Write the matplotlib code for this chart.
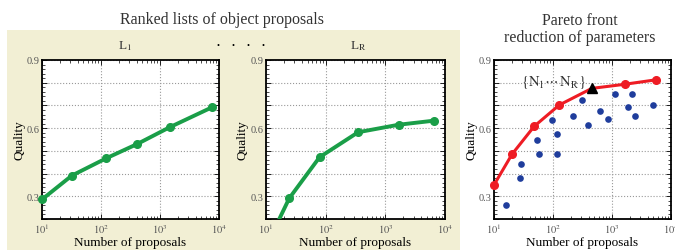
import numpy as np
import matplotlib
matplotlib.use("Agg")
import matplotlib.pyplot as plt
from matplotlib.patches import Rectangle
from matplotlib.ticker import MultipleLocator, FuncFormatter, LogLocator

plt.rcParams['font.family'] = ['Liberation Serif', 'DejaVu Serif']
plt.rcParams['mathtext.fontset'] = 'stix'

# ranked list L_1
l1_x = [10.1, 32, 122, 410, 1460, 7650]
l1_q = [0.287, 0.391, 0.467, 0.530, 0.604, 0.692]

# ranked list L_R (first entry is where the curve leaves the bottom, no marker)
lr_x = [16.7, 24.5, 79, 350, 1670, 6560]
lr_q = [0.20, 0.291, 0.472, 0.582, 0.615, 0.633]

# pareto front (index 4 sits under the triangle)
front_x = [10, 20.2, 48, 128, 454, 1630, 5640]
front_q = [0.350, 0.485, 0.608, 0.702, 0.775, 0.793, 0.813]
chosen = 4

# other parameter settings
other_x = [16.2, 28.1, 29.2, 53.9, 57.5, 94.6, 115, 118, 215, 306, 398,
           637, 871, 1130, 1834, 2202, 2477, 4946]
other_q = [0.262, 0.381, 0.444, 0.549, 0.485, 0.637, 0.576, 0.485, 0.655,
           0.724, 0.615, 0.676, 0.640, 0.749, 0.692, 0.749, 0.655, 0.702]

GREEN = '#1a9e48'
RED = '#ee1c24'
BLUE = '#1f3d9c'
BEIGE = '#f2efd4'

W, H = 675, 251
fig = plt.figure(figsize=(W / 100, H / 100), dpi=100)


def px_axes(left, right, top, bottom):
    return fig.add_axes([left / W, 1 - bottom / H, (right - left) / W, (bottom - top) / H])


# beige box behind the two ranked-list plots
fig.patches.append(Rectangle((7 / W, 0), 453 / W, 220 / H, transform=fig.transFigure,
                             facecolor=BEIGE, edgecolor='none', zorder=-5))


def qfmt(v, pos):
    r = round(v * 10)
    if r % 3 == 0 and r > 0:
        return '%.1f' % v
    return ''


def style(ax):
    ax.set_xscale('log')
    ax.set_xlim(10, 1e4)
    ax.set_ylim(0.2, 0.9)
    ax.yaxis.set_major_locator(MultipleLocator(0.1))
    ax.yaxis.set_minor_locator(MultipleLocator(0.02))
    ax.yaxis.set_major_formatter(FuncFormatter(qfmt))
    ax.xaxis.set_major_locator(LogLocator(base=10, numticks=10))
    ax.xaxis.set_major_formatter(FuncFormatter(lambda v, p: r'$10^{%d}$' % round(np.log10(v))))
    ax.tick_params(which='both', direction='in', top=True, right=True,
                   labelsize=7.5, labelcolor='#555555', pad=2)
    ax.tick_params(which='major', length=3.5, width=0.6)
    ax.tick_params(which='minor', length=2, width=0.5)
    ax.grid(True, which='major', linestyle=':', color='#999999', linewidth=0.8)
    for s in ax.spines.values():
        s.set_linewidth(1.3)
    ax.set_xlabel('Number of proposals', fontsize=9.5)
    ax.set_ylabel('Quality', fontsize=9.5)
    ax.xaxis.set_label_coords(0.5, -0.105)
    ax.yaxis.set_label_coords(-0.095, 0.5)
    ax.set_facecolor('white')


ax1 = px_axes(42, 219, 61, 220)
style(ax1)
ax1.plot(l1_x, l1_q, color=GREEN, lw=2.8, marker='o', ms=5.5, clip_on=False, zorder=3)

ax2 = px_axes(266, 445, 61, 220)
style(ax2)
ax2.plot(lr_x, lr_q, color=GREEN, lw=2.8, zorder=3)
ax2.plot(lr_x[1:], lr_q[1:], 'o', color=GREEN, ms=5.5, zorder=3)

ax3 = px_axes(494, 671, 61, 220)
style(ax3)
ax3.plot(other_x, other_q, 'o', color=BLUE, ms=4.8, mec='none', zorder=3)
ax3.plot(front_x, front_q, color=RED, lw=2.2, zorder=4, clip_on=False)
keep = [i for i in range(len(front_x)) if i != chosen]
ax3.plot([front_x[i] for i in keep], [front_q[i] for i in keep], 'o', color=RED,
         ms=5.5, zorder=5, clip_on=False)
ax3.plot(front_x[chosen], front_q[chosen], '^', color='black', ms=7, zorder=6)
ax3.text(0.335, 0.865, r'$\{\mathrm{N}_1\cdots\,\mathrm{N}_\mathrm{R}\}$', transform=ax3.transAxes,
         ha='center', va='center', fontsize=10.5, color='#333333', zorder=7)

fig.text(222 / W, 1 - 20 / H, 'Ranked lists of object proposals', ha='center', va='center',
         fontsize=11.5, color='#333333')
fig.text(125 / W, 1 - 46 / H, r'L$_1$', ha='center', va='center', fontsize=9.5, color='#333333')
fig.text(358 / W, 1 - 46 / H, r'L$_\mathrm{R}$', ha='center', va='center', fontsize=9.5, color='#333333')
for dx in [218, 233, 248, 263]:
    fig.text(dx / W, 1 - 46 / H, '•', ha='center', va='center', fontsize=6, color='black')
fig.text(580 / W, 1 - 29.5 / H, 'Pareto front\nreduction of parameters', ha='center', va='center',
         fontsize=11.5, color='#333333', linespacing=1.15)

fig.savefig('out.png', dpi=100)
